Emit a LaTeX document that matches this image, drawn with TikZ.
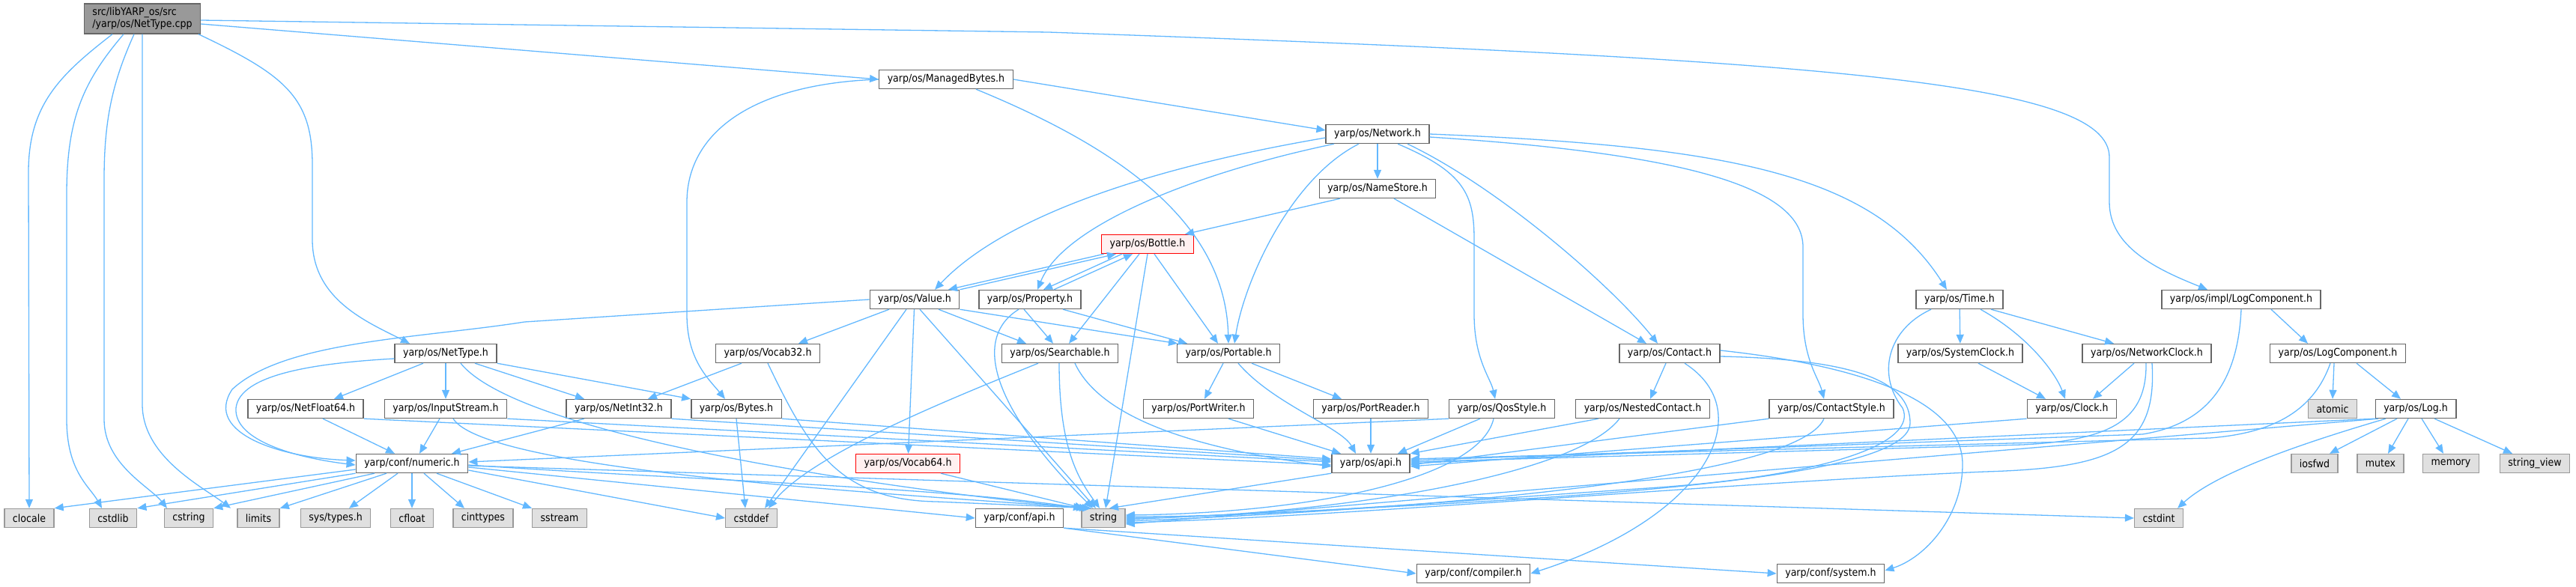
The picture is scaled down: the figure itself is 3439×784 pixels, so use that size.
\documentclass[tikz,border=0pt]{standalone}
\usepackage{fontspec}
\setmainfont{DejaVu Sans Condensed}
\usetikzlibrary{arrows.meta}
\definecolor{edgeblue}{HTML}{63B8FF}
\definecolor{hdrline}{HTML}{666666}
\definecolor{sysline}{HTML}{999999}
\definecolor{sysfill}{HTML}{E0E0E0}
\definecolor{rootfill}{HTML}{999999}
\definecolor{redfill}{HTML}{FFF0F0}
\begin{document}
\begin{tikzpicture}[x=1pt,y=-1pt]

    \tikzset{
      hdr/.style={
        draw=hdrline,
        fill=white,
        line width=1.4pt,
        minimum height=25pt,
        inner xsep=11pt,
        inner ysep=2pt,
        font=\fontsize{14}{16}\selectfont,
      },
      syshdr/.style={hdr, draw=sysline, fill=sysfill},
      redhdr/.style={hdr, draw=red, fill=redfill},
      srcfile/.style={hdr, fill=rootfill, align=left, minimum height=40pt},
      inc/.style={draw=edgeblue, line width=1.3pt, -{Triangle[length=12pt,width=10pt]}},
    }
    \useasboundingbox (0,0) rectangle (3439,784);

    % headers, row by row
    \node[srcfile] (cpp) at (190,25) {src/libYARP\_os/src\\/yarp/os/NetType.cpp};
    \node[hdr] (managed) at (1263,106) {yarp/os/ManagedBytes.h};
    \node[hdr] (network) at (1839,179) {yarp/os/Network.h};
    \node[hdr] (namestore) at (1839,252) {yarp/os/NameStore.h};
    \node[redhdr] (bottle) at (1532,326) {yarp/os/Bottle.h};
    \node[hdr] (value) at (1221,400) {yarp/os/Value.h};
    \node[hdr] (property) at (1375,400) {yarp/os/Property.h};
    \node[hdr] (time) at (2616,400) {yarp/os/Time.h};
    \node[hdr] (impllog) at (2992,400) {yarp/os/impl/LogComponent.h};
    \node[hdr] (nettypeh) at (595,472) {yarp/os/NetType.h};
    \node[hdr] (vocab32) at (1025,472) {yarp/os/Vocab32.h};
    \node[hdr] (searchable) at (1415,472) {yarp/os/Searchable.h};
    \node[hdr] (portable) at (1640,472) {yarp/os/Portable.h};
    \node[hdr] (contact) at (2229,472) {yarp/os/Contact.h};
    \node[hdr] (sysclock) at (2617,472) {yarp/os/SystemClock.h};
    \node[hdr] (netclock) at (2866,472) {yarp/os/NetworkClock.h};
    \node[hdr] (logcomp) at (3121,472) {yarp/os/LogComponent.h};
    \node[hdr] (netfloat) at (408,546) {yarp/os/NetFloat64.h};
    \node[hdr] (instream) at (595,546) {yarp/os/InputStream.h};
    \node[hdr] (netint) at (826,546) {yarp/os/NetInt32.h};
    \node[hdr] (bytes) at (983,546) {yarp/os/Bytes.h};
    \node[hdr] (pwriter) at (1600,546) {yarp/os/PortWriter.h};
    \node[hdr] (preader) at (1830,546) {yarp/os/PortReader.h};
    \node[hdr] (qos) at (2005,546) {yarp/os/QosStyle.h};
    \node[hdr] (nested) at (2193,546) {yarp/os/NestedContact.h};
    \node[hdr] (cstyle) at (2445,546) {yarp/os/ContactStyle.h};
    \node[hdr] (clock) at (2766,546) {yarp/os/Clock.h};
    \node[syshdr] (atomic) at (3114,546) {atomic};
    \node[hdr] (log) at (3225,546) {yarp/os/Log.h};
    \node[hdr] (numeric) at (550,619) {yarp/conf/numeric.h};
    \node[redhdr] (vocab64) at (1212,619) {yarp/os/Vocab64.h};
    \node[hdr] (osapi) at (1830,619) {yarp/os/api.h};
    \node[syshdr] (iosfwd) at (3090,619) {iosfwd};
    \node[syshdr] (mutex) at (3178,619) {mutex};
    \node[syshdr] (memory) at (3272,619) {memory};
    \node[syshdr] (strview) at (3384,619) {string\_view};
    \node[syshdr] (clocale) at (39,692) {clocale};
    \node[syshdr] (cstdlib) at (151,692) {cstdlib};
    \node[syshdr] (cstring) at (252,692) {cstring};
    \node[syshdr] (limits) at (345,692) {limits};
    \node[syshdr] (systypes) at (448,692) {sys/types.h};
    \node[syshdr] (cfloat) at (550,692) {cfloat};
    \node[syshdr] (cinttypes) at (645,692) {cinttypes};
    \node[syshdr] (sstream) at (747,692) {sstream};
    \node[syshdr] (cstddef) at (1003,692) {cstddef};
    \node[hdr] (confapi) at (1361,692) {yarp/conf/api.h};
    \node[syshdr] (string) at (1473,692) {string};
    \node[syshdr] (cstdint) at (2882,692) {cstdint};
    \node[hdr] (compiler) at (1967,766) {yarp/conf/compiler.h};
    \node[hdr] (system) at (2444,766) {yarp/conf/system.h};

    % NetType.cpp
    \draw[inc] ([xshift=-40]cpp.south) .. controls (80,100) and (38,140) .. (38,230) -- (clocale.north);
    \draw[inc] ([xshift=-25]cpp.south) .. controls (110,110) and (89,160) .. (89,260) -- (89,560) .. controls (89,630) and (120,650) .. ([xshift=-15]cstdlib.north);
    \draw[inc] ([xshift=-11]cpp.south) .. controls (150,110) and (139,160) .. (139,240) -- (139,560) .. controls (139,620) and (200,650) .. ([xshift=-29]cstring.north);
    \draw[inc] (cpp.south) -- (190,540) .. controls (190,610) and (270,650) .. ([xshift=-37]limits.north);
    \draw[inc] ([xshift=75]cpp.south) .. controls (380,100) and (417,130) .. (417,220) -- (417,320) .. controls (417,400) and (490,430) .. ([xshift=-48]nettypeh.north);
    \draw[inc] ([yshift=-7]cpp.east) -- (managed.west);
    \draw[inc] ([yshift=-2]cpp.east) -- (1400,43) .. controls (2450,80) and (2816,110) .. (2816,210) -- (2816,270) .. controls (2816,330) and (2880,360) .. ([xshift=-45]impllog.north);

    % ManagedBytes.h
    \draw[inc] (managed.east) -- ([yshift=5]network.west);
    \draw[inc] (managed.west) .. controls (1000,112) and (917,180) .. (917,270) -- (917,420) .. controls (917,480) and (945,505) .. ([xshift=-15]bytes.north);
    \draw[inc] ([xshift=40]managed.south) .. controls (1500,200) and (1636,300) .. (portable.north);

    % Network.h and NameStore.h
    \draw[inc] ([yshift=-5]network.west) .. controls (1500,230) and (1330,300) .. ([xshift=27]value.north);
    \draw[inc] ([xshift=-58]network.south) .. controls (1600,230) and (1420,300) .. ([xshift=10]property.north);
    \draw[inc] ([xshift=-25]network.south) .. controls (1720,240) and (1660,380) .. ([xshift=8]portable.north);
    \draw[inc] (network) -- (namestore);
    \draw[inc] ([xshift=40]network.south) .. controls (2000,250) and (2150,380) .. ([xshift=-16]contact.north);
    \draw[inc] ([xshift=27]network.south) .. controls (1955,230) and (1968,260) .. (1968,320) -- (1968,420) .. controls (1968,480) and (1990,505) .. ([xshift=-9]qos.north);
    \draw[inc] ([yshift=-4]network.east) .. controls (2250,205) and (2407,250) .. (2407,330) -- (2407,420) .. controls (2407,480) and (2428,505) .. ([xshift=-10]cstyle.north);
    \draw[inc] (network.east) .. controls (2300,195) and (2500,230) .. ([xshift=-17]time.north);
    \draw[inc] ([xshift=-50]namestore.south) -- ([xshift=50]bottle.north);
    \draw[inc] ([xshift=22]namestore.south) -- ([xshift=-31]contact.north);

    % Bottle.h, Value.h, Property.h
    \draw[inc] ([xshift=-58]bottle.south) -- ([xshift=45]value.north);
    \draw[inc] (value.north east) -- ([xshift=-42]bottle.south);
    \draw[inc] ([xshift=-34]bottle.south) -- ([xshift=18]property.north);
    \draw[inc] ([xshift=32]property.north) -- ([xshift=-20]bottle.south);
    \draw[inc] ([xshift=-11]bottle.south) -- ([xshift=12]searchable.north);
    \draw[inc] ([xshift=9]bottle.south) -- ([xshift=-14]portable.north);
    \draw[inc] (bottle.south) -- ([xshift=3]string.north);
    \draw[inc] ([xshift=-34]value.south) -- ([xshift=41]vocab32.north);
    \draw[inc] ([xshift=-11]value.south) -- ([xshift=18]cstddef.north);
    \draw[inc] (value) -- (vocab64);
    \draw[inc] ([xshift=7]value.south) -- ([xshift=-10]string.north);
    \draw[inc] ([xshift=32]value.south) -- ([xshift=-45]searchable.north);
    \draw[inc] (value.south east) -- ([xshift=-68]portable.north);
    \draw[inc] (value.west) -- (700,430) .. controls (560,452) and (380,455) .. (310,520) .. controls (270,580) and (380,612) .. ([yshift=4]numeric.west);
    \draw[inc] ([xshift=-8]property.south) -- ([xshift=-9]searchable.north);
    \draw[inc] ([xshift=44]property.south) -- ([xshift=-55]portable.north);
    \draw[inc] ([xshift=-15]property.south) .. controls (1300,450) and (1320,540) .. ([xshift=-14]string.north);

    % NetType.h and its neighbours
    \draw[inc] ([yshift=-7]nettypeh.west) .. controls (420,485) and (320,500) .. (315,545) .. controls (312,590) and (400,612) .. ([yshift=-2]numeric.west);
    \draw[inc] ([xshift=-30]nettypeh.south) -- ([xshift=38]netfloat.north);
    \draw[inc] (nettypeh) -- (instream);
    \draw[inc] ([xshift=39]nettypeh.south) -- ([xshift=-46]netint.north);
    \draw[inc] (nettypeh.south east) -- (bytes.north west);
    \draw[inc] ([xshift=20]nettypeh.south) .. controls (700,590) and (1250,660) .. ([xshift=-24]string.north);
    \draw[inc] ([xshift=23]netfloat.south) -- ([xshift=-23]numeric.north);
    \draw[inc] (netfloat.south east) -- ([yshift=-2]osapi.west);
    \draw[inc] ([xshift=-8]instream.south) -- ([xshift=10]numeric.north);
    \draw[inc] (instream.south east) -- ([yshift=2]osapi.west);
    \draw[inc] ([xshift=10]instream.south) .. controls (650,630) and (1200,660) .. ([xshift=-20]string.north);
    \draw[inc] ([xshift=-46]netint.south) -- ([xshift=53]numeric.north);
    \draw[inc] (netint.south east) -- ([yshift=4]osapi.west);
    \draw[inc] (bytes.south) -- ([xshift=-8]cstddef.north);
    \draw[inc] (bytes.south east) -- ([yshift=6]osapi.west);
    \draw[inc] ([xshift=-35]vocab32.south) -- ([xshift=39]netint.north);
    \draw[inc] (vocab32.south) .. controls (1080,600) and (1120,668) .. (1250,670) -- ([xshift=-16]string.north);
    \draw[inc] ([xshift=44]vocab64.south) -- ([xshift=-26]string.north);

    % Searchable.h, Portable.h
    \draw[inc] ([xshift=-29]searchable.south) .. controls (1250,540) and (1080,610) .. ([xshift=23]cstddef.north);
    \draw[inc] ([xshift=-1]searchable.south) .. controls (1414,600) and (1440,640) .. ([xshift=-5]string.north);
    \draw[inc] ([xshift=20]searchable.south) .. controls (1470,560) and (1600,600) .. ([yshift=-4]osapi.west);
    \draw[inc] ([xshift=-7]portable.south) -- ([xshift=8]pwriter.north);
    \draw[inc] ([xshift=31]portable.south) -- ([xshift=-39]preader.north);
    \draw[inc] ([xshift=13]portable.south) .. controls (1700,540) and (1790,570) .. ([xshift=-20]osapi.north);
    \draw[inc] ([xshift=40]pwriter.south) -- ([xshift=-40]osapi.north);
    \draw[inc] (preader) -- (osapi);
    \draw[inc] (osapi.south west) -- ([xshift=8]string.north);

    % yarp/conf/numeric.h
    \draw[inc] ([yshift=-8]numeric.west) -- (clocale.north east);
    \draw[inc] (numeric.south west) -- (cstdlib.north east);
    \draw[inc] ([xshift=-50]numeric.south) -- (cstring.north east);
    \draw[inc] ([xshift=-34]numeric.south) -- (limits.north east);
    \draw[inc] ([xshift=-19]numeric.south) -- ([xshift=18]systypes.north);
    \draw[inc] (numeric) -- (cfloat);
    \draw[inc] ([xshift=16]numeric.south) -- ([xshift=-25]cinttypes.north);
    \draw[inc] ([xshift=33]numeric.south) -- (sstream.north west);
    \draw[inc] ([yshift=-9]numeric.east) -- (cstddef.west);
    \draw[inc] ([yshift=-5]numeric.east) -- (confapi.west);
    \draw[inc] ([yshift=-2]numeric.east) .. controls (900,640) and (1250,650) .. ([xshift=-28]string.north);
    \draw[inc] ([yshift=-3]numeric.east) -- (cstdint.west);
    \draw[inc] (confapi.south east) -- (compiler.west);
    \draw[inc] (confapi.south east) -- (system.west);

    % Contact.h and the styles
    \draw[inc] ([xshift=-5]contact.south) -- ([xshift=10]nested.north);
    \draw[inc] ([xshift=20]contact.south) .. controls (2350,550) and (2280,690) .. (compiler.east);
    \draw[inc] ([yshift=4]contact.east) .. controls (2500,490) and (2620,540) .. (2620,620) .. controls (2620,690) and (2570,745) .. ([yshift=4]system.east);
    \draw[inc] ([yshift=-4]contact.east) .. controls (2480,480) and (2550,510) .. (2550,565) .. controls (2550,650) and (2000,670) .. ([yshift=-2]string.east);
    \draw[inc] ([xshift=-29]qos.south) -- ([xshift=36]osapi.north);
    \draw[inc] ([xshift=-11]qos.south) .. controls (1975,640) and (1750,685) .. ([yshift=4]string.east);
    \draw[inc] (qos.south west) -- ([yshift=2]numeric.east);
    \draw[inc] ([xshift=-59]nested.south) -- (osapi.north east);
    \draw[inc] ([xshift=-31]nested.south) .. controls (2100,640) and (1750,690) .. (string.east);
    \draw[inc] (cstyle.south west) -- ([yshift=-2]osapi.east);
    \draw[inc] ([xshift=-10]cstyle.south) .. controls (2400,640) and (1900,680) .. ([yshift=-4]string.east);

    % Time.h and the clocks
    \draw[inc] (time) -- (sysclock);
    \draw[inc] ([xshift=42]time.south) -- ([xshift=-44]netclock.north);
    \draw[inc] ([xshift=28]time.south) .. controls (2710,450) and (2745,500) .. ([xshift=-9]clock.north);
    \draw[inc] ([xshift=-38]time.south) .. controls (2520,440) and (2505,500) .. (2540,545) .. controls (2560,590) and (2450,635) .. (2200,652) .. controls (1900,672) and (1700,690) .. ([yshift=2]string.east);
    \draw[inc] ([xshift=24]sysclock.south) -- ([xshift=-35]clock.north);
    \draw[inc] ([xshift=-17]netclock.south) -- ([xshift=28]clock.north);
    \draw[inc] ([xshift=-1]netclock.south) .. controls (2866,560) and (2820,588) .. (2700,594) -- ([yshift=2]osapi.east);
    \draw[inc] ([xshift=7]netclock.south) .. controls (2880,600) and (2820,625) .. (2650,630) .. controls (2300,645) and (1800,690) .. ([yshift=-6]string.east);
    \draw[inc] (clock.south west) -- ([yshift=-4]osapi.east);

    % logging
    \draw[inc] ([xshift=40]impllog.south) -- ([xshift=-40]logcomp.north);
    \draw[inc] (impllog.south) .. controls (2988,500) and (2955,565) .. (2860,580) -- ([yshift=4]osapi.east);
    \draw[inc] ([xshift=-10]logcomp.south) .. controls (3090,545) and (3040,578) .. (2950,585) -- ([yshift=6]osapi.east);
    \draw[inc] ([xshift=-5]logcomp.south) -- (atomic.north);
    \draw[inc] ([xshift=25]logcomp.south) -- ([xshift=-20]log.north);
    \draw[inc] ([xshift=-25]log.south) -- ([xshift=20]iosfwd.north);
    \draw[inc] ([xshift=-10]log.south) -- ([xshift=10]mutex.north);
    \draw[inc] ([xshift=8]log.south) -- ([xshift=-10]memory.north);
    \draw[inc] ([xshift=25]log.south) -- ([xshift=-30]strview.north);
    \draw[inc] ([xshift=-40]log.south) .. controls (3080,590) and (2960,630) .. ([xshift=25]cstdint.north);
    \draw[inc] (log.south west) -- (osapi.east);
    \draw[inc] ([xshift=-50]log.south) -- ([yshift=-8]string.east);

\end{tikzpicture}
\end{document}
